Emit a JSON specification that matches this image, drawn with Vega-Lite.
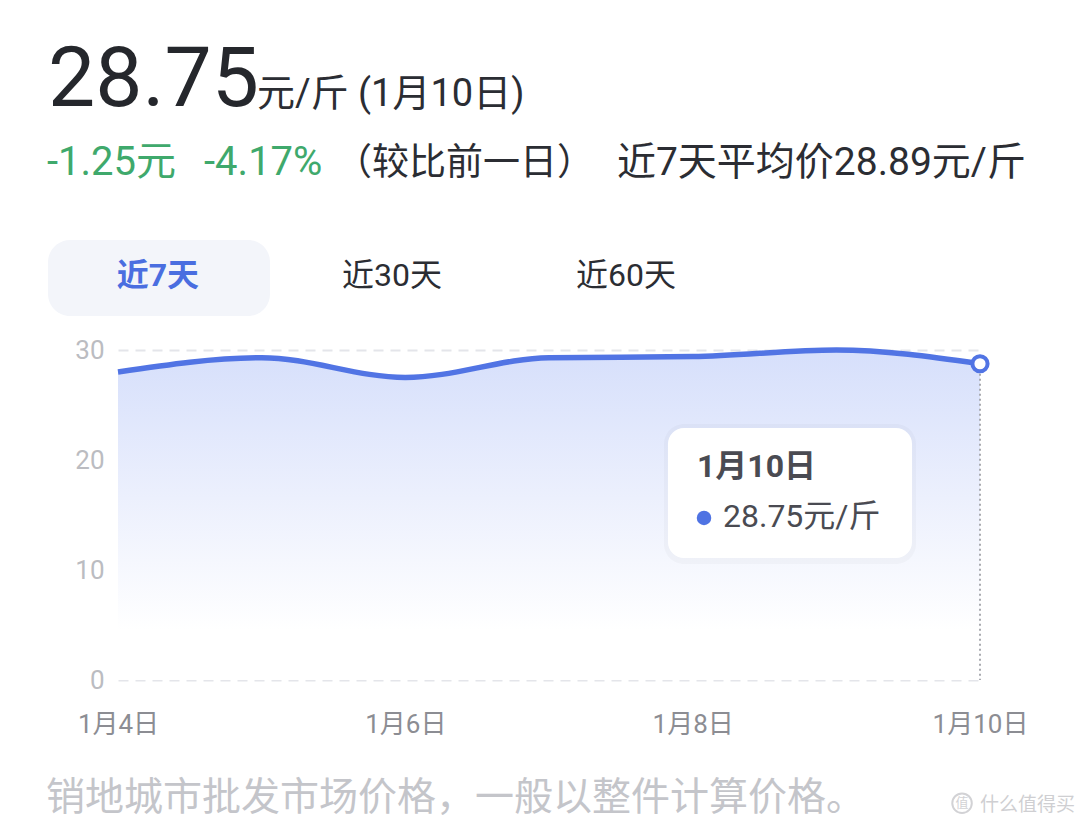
{
  "$schema": "https://vega.github.io/schema/vega-lite/v6.json",
  "autosize": {"type": "none"},
  "width": 862,
  "height": 330,
  "padding": {"left": 118, "top": 350, "right": 100, "bottom": 156},
  "background": "#ffffff",
  "config": {
    "view": {"stroke": null},
    "font": "Roboto, 'Noto Sans CJK SC', sans-serif"
  },
  "data": {"values": [
    {"day": 4, "price": 28.0},
    {"day": 5, "price": 29.3},
    {"day": 6, "price": 27.5},
    {"day": 7, "price": 29.3},
    {"day": 8, "price": 29.4},
    {"day": 9, "price": 30.0},
    {"day": 10, "price": 28.75}
  ]},
  "layer": [
    {
      "mark": {"type": "area", "interpolate": "monotone",
        "color": {"gradient": "linear", "x1": 0, "y1": 0, "x2": 0, "y2": 1,
          "stops": [{"offset": 0, "color": "#d6dffb"}, {"offset": 0.45, "color": "#ecf0fd"}, {"offset": 0.85, "color": "#ffffff"}, {"offset": 1, "color": "#ffffff"}]}},
      "encoding": {
        "x": {"field": "day", "type": "quantitative", "scale": {"domain": [4, 10], "nice": false, "zero": false},
          "axis": {"values": [4, 6, 8, 10], "labelExpr": "'1月' + datum.value + '日'", "title": null, "domain": false, "ticks": false, "grid": false,
            "labelFlush": false, "labelAlign": "center", "labelOverlap": false,
            "labelFontSize": 26, "labelColor": "#8c8d93", "labelPadding": 31, "labelBaseline": "top", "labelFont": "Roboto, 'Noto Sans CJK SC'"}},
        "y": {"field": "price", "type": "quantitative", "scale": {"domain": [0, 30], "nice": false, "zero": true},
          "axis": {"values": [0, 10, 20, 30], "title": null, "domain": false, "ticks": false, "grid": true, "gridColor": "#e4e5ea", "gridWidth": 2, "gridDash": [10, 7],
            "labelFlush": false, "labelFontSize": 26, "labelColor": "#bbbcc1", "labelPadding": 14, "labelFont": "Roboto, 'Noto Sans CJK SC'"}}
      }
    },
    {
      "mark": {"type": "line", "interpolate": "monotone", "color": "#5174e4", "strokeWidth": 5.5},
      "encoding": {
        "x": {"field": "day", "type": "quantitative"},
        "y": {"field": "price", "type": "quantitative"}
      }
    },
    {
      "transform": [{"filter": "datum.day == 10"}],
      "mark": {"type": "rule", "color": "#a9aab0", "strokeWidth": 2, "strokeDash": [2, 3]},
      "encoding": {
        "x": {"field": "day", "type": "quantitative"},
        "y": {"field": "price", "type": "quantitative"},
        "y2": {"datum": 0}
      }
    },
    {
      "transform": [{"filter": "datum.day == 10"}],
      "mark": {"type": "point", "filled": true, "fill": "#ffffff", "stroke": "#5174e4", "strokeWidth": 4, "size": 230, "opacity": 1},
      "encoding": {
        "x": {"field": "day", "type": "quantitative"},
        "y": {"field": "price", "type": "quantitative"}
      }
    },
    {
      "data": {"values": [{}]},
      "mark": {"type": "rect", "cornerRadius": 22, "fill": "#f3f5fa"},
      "encoding": {
        "x": {"datum": 3.513, "type": "quantitative"},
        "x2": {"datum": 5.058},
        "y": {"datum": 40.0, "type": "quantitative"},
        "y2": {"datum": 33.09}
      }
    },
    {
      "data": {"values": [{}]},
      "mark": {"type": "rect", "cornerRadius": 20, "fill": "#000000", "opacity": 0.025},
      "encoding": {
        "x": {"datum": 7.800, "type": "quantitative"},
        "x2": {"datum": 9.555},
        "y": {"datum": 23.27, "type": "quantitative"},
        "y2": {"datum": 10.55}
      }
    },
    {
      "data": {"values": [{}]},
      "mark": {"type": "rect", "cornerRadius": 16, "fill": "#ffffff"},
      "encoding": {
        "x": {"datum": 7.828, "type": "quantitative"},
        "x2": {"datum": 9.527},
        "y": {"datum": 22.91, "type": "quantitative"},
        "y2": {"datum": 11.09}
      }
    },
    {
      "data": {"values": [{}]},
      "mark": {"type": "text", "align": "left", "baseline": "alphabetic", "fontSize": 32, "fontWeight": "bold", "color": "#4a4b52"},
      "encoding": {
        "x": {"datum": 8.03, "type": "quantitative"},
        "y": {"datum": 18.45, "type": "quantitative"},
        "text": {"value": "1月10日"}
      }
    },
    {
      "data": {"values": [{}]},
      "mark": {"type": "point", "filled": true, "color": "#4f73e3", "size": 210, "opacity": 1},
      "encoding": {
        "x": {"datum": 8.079, "type": "quantitative"},
        "y": {"datum": 14.73, "type": "quantitative"}
      }
    },
    {
      "data": {"values": [{}]},
      "mark": {"type": "text", "align": "left", "baseline": "middle", "fontSize": 32, "color": "#4a4b52"},
      "encoding": {
        "x": {"datum": 8.211, "type": "quantitative"},
        "y": {"datum": 14.82, "type": "quantitative"},
        "text": {"value": "28.75元/斤"}
      }
    },
    {
      "data": {"values": [{}]},
      "mark": {"type": "text", "align": "left", "baseline": "alphabetic", "fontSize": 84, "color": "#25272c"},
      "encoding": {
        "x": {"datum": 3.513, "type": "quantitative"},
        "y": {"datum": 52.18, "type": "quantitative"},
        "text": {"value": "28.75"}
      }
    },
    {
      "data": {"values": [{}]},
      "mark": {"type": "text", "align": "left", "baseline": "alphabetic", "fontSize": 38, "color": "#2b2d33"},
      "encoding": {
        "x": {"datum": 4.9675, "type": "quantitative"},
        "y": {"datum": 52.18, "type": "quantitative"},
        "text": {"value": "元/斤 (1月10日)"}
      }
    },
    {
      "data": {"values": [{}]},
      "mark": {"type": "text", "align": "left", "baseline": "alphabetic", "fontSize": 40, "color": "#3fa96c"},
      "encoding": {
        "x": {"datum": 3.506, "type": "quantitative"},
        "y": {"datum": 45.91, "type": "quantitative"},
        "text": {"value": "-1.25元"}
      }
    },
    {
      "data": {"values": [{}]},
      "mark": {"type": "text", "align": "left", "baseline": "alphabetic", "fontSize": 40, "color": "#3fa96c"},
      "encoding": {
        "x": {"datum": 4.599, "type": "quantitative"},
        "y": {"datum": 45.91, "type": "quantitative"},
        "text": {"value": "-4.17%"}
      }
    },
    {
      "data": {"values": [{}]},
      "mark": {"type": "text", "align": "left", "baseline": "alphabetic", "fontSize": 37, "color": "#2b2d33"},
      "encoding": {
        "x": {"datum": 5.51, "type": "quantitative"},
        "y": {"datum": 45.91, "type": "quantitative"},
        "text": {"value": "（较比前一日）"}
      }
    },
    {
      "data": {"values": [{}]},
      "mark": {"type": "text", "align": "left", "baseline": "alphabetic", "fontSize": 39, "color": "#2b2d33"},
      "encoding": {
        "x": {"datum": 7.473, "type": "quantitative"},
        "y": {"datum": 45.91, "type": "quantitative"},
        "text": {"value": "近7天平均价28.89元/斤"}
      }
    },
    {
      "data": {"values": [{}]},
      "mark": {"type": "text", "align": "center", "baseline": "middle", "fontSize": 32, "fontWeight": "bold", "color": "#4a6ee0"},
      "encoding": {
        "x": {"datum": 4.278, "type": "quantitative"},
        "y": {"datum": 36.73, "type": "quantitative"},
        "text": {"value": "近7天"}
      }
    },
    {
      "data": {"values": [{}]},
      "mark": {"type": "text", "align": "center", "baseline": "middle", "fontSize": 32, "color": "#2b2d33"},
      "encoding": {
        "x": {"datum": 5.907, "type": "quantitative"},
        "y": {"datum": 36.73, "type": "quantitative"},
        "text": {"value": "近30天"}
      }
    },
    {
      "data": {"values": [{}]},
      "mark": {"type": "text", "align": "center", "baseline": "middle", "fontSize": 32, "color": "#2b2d33"},
      "encoding": {
        "x": {"datum": 7.536, "type": "quantitative"},
        "y": {"datum": 36.73, "type": "quantitative"},
        "text": {"value": "近60天"}
      }
    },
    {
      "data": {"values": [{}]},
      "mark": {"type": "text", "align": "left", "baseline": "alphabetic", "fontSize": 39, "color": "#c4c5ca"},
      "encoding": {
        "x": {"datum": 3.499, "type": "quantitative"},
        "y": {"datum": -11.82, "type": "quantitative"},
        "text": {"value": "销地城市批发市场价格，一般以整件计算价格。"}
      }
    },
    {
      "data": {"values": [{}]},
      "mark": {"type": "point", "filled": false, "color": "#d2d2d5", "strokeWidth": 2, "size": 380, "opacity": 1},
      "encoding": {
        "x": {"datum": 9.875, "type": "quantitative"},
        "y": {"datum": -11.2, "type": "quantitative"}
      }
    },
    {
      "data": {"values": [{}]},
      "mark": {"type": "text", "align": "center", "baseline": "middle", "fontSize": 13, "color": "#d2d2d5"},
      "encoding": {
        "x": {"datum": 9.875, "type": "quantitative"},
        "y": {"datum": -11.2, "type": "quantitative"},
        "text": {"value": "值"}
      }
    },
    {
      "data": {"values": [{}]},
      "mark": {"type": "text", "align": "left", "baseline": "alphabetic", "fontSize": 19, "color": "#cfcfd2"},
      "encoding": {
        "x": {"datum": 10.0, "type": "quantitative"},
        "y": {"datum": -11.9, "type": "quantitative"},
        "text": {"value": "什么值得买"}
      }
    }
  ]
}
